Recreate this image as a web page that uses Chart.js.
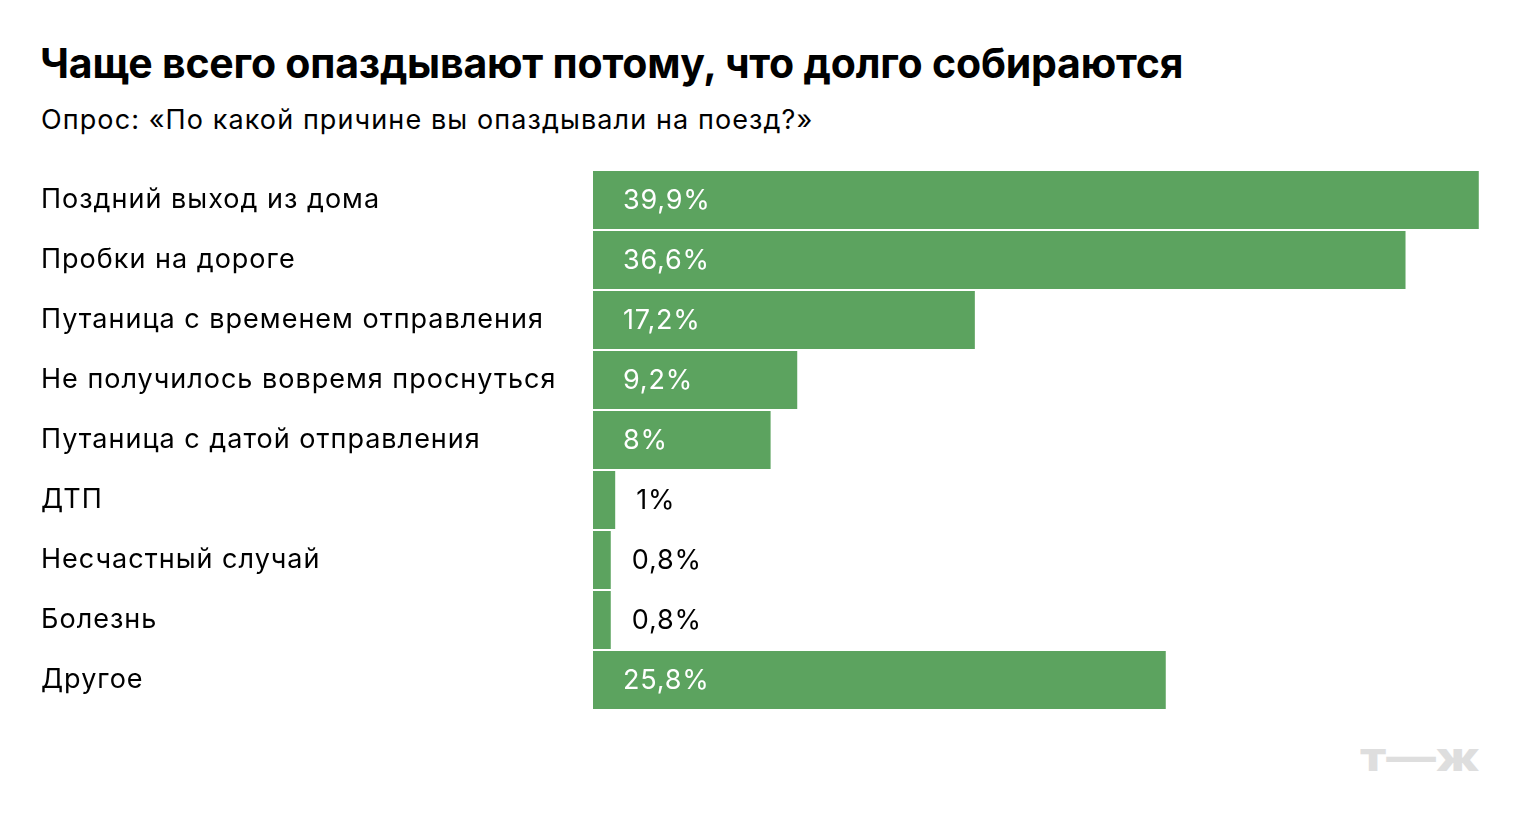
<!DOCTYPE html>
<html lang="ru">
<head>
<meta charset="utf-8">
<script src="https://cdn.jsdelivr.net/npm/chart.js@4/dist/chart.umd.min.js"></script>
<style>
  html, body { margin: 0; padding: 0; background: #fff; }
  body { width: 1520px; height: 830px; position: relative; overflow: hidden; font-family: Inter, sans-serif; }
  #title { position: absolute; left: 40px; top: 38px; font-size: 41px; font-weight: 700; color: #000; letter-spacing: -0.2px; white-space: nowrap; }
  #subtitle { position: absolute; left: 41px; top: 103px; font-size: 27px; color: #000; letter-spacing: 1.1px; white-space: nowrap; }
  #logo { position: absolute; left: 1360px; top: 732px; font-size: 40px; font-weight: 800; color: #dedede; white-space: nowrap; transform-origin: left top; transform: scaleX(1.24); }
  #wrap { position: absolute; left: 0; top: 0; width: 1520px; height: 830px; }
</style>
</head>
<body>
<div id="title">Чаще всего опаздывают потому, что долго собираются</div>
<div id="subtitle">Опрос: «По какой причине вы опаздывали на поезд?»</div>
<div id="logo">т—ж</div>
<div id="wrap"><canvas id="chart" width="1520" height="830"></canvas></div>
<script>
// данные опроса
const categories = [
  'Поздний выход из дома',
  'Пробки на дороге',
  'Путаница с временем отправления',
  'Не получилось вовремя проснуться',
  'Путаница с датой отправления',
  'ДТП',
  'Несчастный случай',
  'Болезнь',
  'Другое'
];
const values = [39.9, 36.6, 17.2, 9.2, 8, 1, 0.8, 0.8, 25.8];
const valueLabels = ['39,9%', '36,6%', '17,2%', '9,2%', '8%', '1%', '0,8%', '0,8%', '25,8%'];

const FONT = 'Inter, sans-serif';

// разрядка как у шрифта оригинала
const spacingPlugin = {
  id: 'spacing',
  beforeDraw(chart) { chart.ctx.letterSpacing = '1px'; }
};

// подписи значений: внутри столбца белым, снаружи — чёрным
const valueLabelPlugin = {
  id: 'valueLabels',
  afterDatasetsDraw(chart) {
    const ctx = chart.ctx;
    const meta = chart.getDatasetMeta(0);
    ctx.save();
    ctx.font = '27px ' + FONT;
    ctx.letterSpacing = '0.8px';
    ctx.textBaseline = 'middle';
    ctx.textAlign = 'left';
    meta.data.forEach((bar, i) => {
      const w = bar.x - bar.base;
      if (w > 120) {
        ctx.fillStyle = '#fff';
        ctx.fillText(valueLabels[i], bar.base + 30, bar.y + 1);
      } else {
        ctx.fillStyle = '#000';
        ctx.fillText(valueLabels[i], bar.x + 21, bar.y + 1);
      }
    });
    ctx.restore();
  }
};

new Chart(document.getElementById('chart'), {
  type: 'bar',
  data: {
    labels: categories,
    datasets: [{
      data: values,
      backgroundColor: '#5ca35f',
      borderWidth: 0,
      categoryPercentage: 1,
      barPercentage: 58 / 60
    }]
  },
  options: {
    indexAxis: 'y',
    responsive: false,
    animation: false,
    layout: { padding: { left: 41, right: 39, top: 170, bottom: 120 } },
    scales: {
      x: { display: false, min: 0, max: 40 },
      y: {
        grid: { display: false },
        border: { display: false },
        ticks: {
          crossAlign: 'far',
          color: '#000',
          font: { family: FONT, size: 27 },
          padding: 0
        },
        afterFit(scale) { scale.width = 552; }
      }
    },
    plugins: {
      legend: { display: false },
      tooltip: { enabled: false }
    }
  },
  plugins: [spacingPlugin, valueLabelPlugin]
});
</script>
</body>
</html>
